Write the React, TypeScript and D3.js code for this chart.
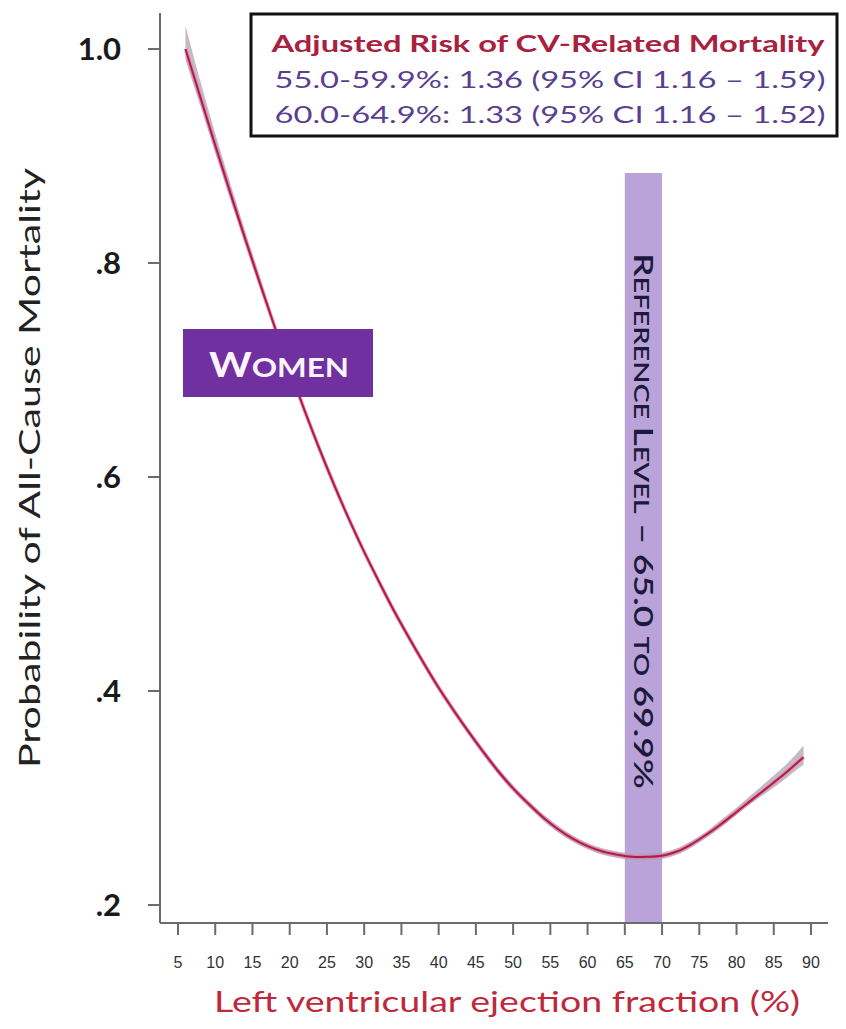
import React from 'react';
import * as d3 from 'd3';

// LVEF (%) and fitted probability of all-cause mortality (women)
const lvef = [6, 8, 10, 12, 14, 16, 18, 20, 22, 24, 26, 28, 30, 32, 34, 36, 38, 40, 42, 44, 46, 48, 50, 52, 54, 56, 58, 60, 62, 64, 66, 68, 70, 72, 74, 76, 78, 80, 82, 84, 86, 88, 89];
const prob = [1.0, 0.955, 0.91, 0.866, 0.823, 0.781, 0.74, 0.7, 0.662, 0.626, 0.592, 0.56, 0.53, 0.502, 0.475, 0.45, 0.426, 0.403, 0.382, 0.362, 0.343, 0.325, 0.309, 0.295, 0.282, 0.271, 0.262, 0.255, 0.25, 0.247, 0.245, 0.245, 0.246, 0.25, 0.257, 0.266, 0.276, 0.287, 0.298, 0.309, 0.32, 0.332, 0.338];
const upper = [1.022, 0.97, 0.921, 0.875, 0.83, 0.787, 0.744, 0.704, 0.666, 0.63, 0.596, 0.563, 0.533, 0.505, 0.478, 0.453, 0.429, 0.406, 0.385, 0.365, 0.346, 0.328, 0.312, 0.298, 0.285, 0.274, 0.265, 0.258, 0.253, 0.25, 0.248, 0.248, 0.249, 0.253, 0.26, 0.269, 0.28, 0.291, 0.303, 0.315, 0.327, 0.341, 0.349];
const lower = [0.99, 0.947, 0.903, 0.86, 0.818, 0.777, 0.736, 0.697, 0.659, 0.623, 0.589, 0.557, 0.527, 0.499, 0.472, 0.447, 0.423, 0.4, 0.379, 0.359, 0.34, 0.322, 0.306, 0.292, 0.279, 0.268, 0.259, 0.252, 0.247, 0.244, 0.242, 0.242, 0.243, 0.247, 0.254, 0.263, 0.273, 0.284, 0.295, 0.305, 0.315, 0.326, 0.331];

const xTicks = [5, 10, 15, 20, 25, 30, 35, 40, 45, 50, 55, 60, 65, 70, 75, 80, 85, 90];
const yTicks = [0.2, 0.4, 0.6, 0.8, 1.0];
const yTickLabels = ['.2', '.4', '.6', '.8', '1.0'];
const refBand = [65, 70];

const legendTitle = 'Adjusted Risk of CV-Related Mortality';
const legendLines = ['55.0-59.9%: 1.36 (95% CI 1.16 \u2013 1.59)', '60.0-64.9%: 1.33 (95% CI 1.16 \u2013 1.52)'];

const W = 846;
const H = 1029;
const FONT = 'Lato, "Open Sans", sans-serif';

export default function App() {
  const x = d3.scaleLinear().domain([5, 90]).range([178, 811]);
  const y = d3.scaleLinear().domain([0.2, 1.0]).range([905, 49]);
  const axisX = 160;
  const axisY = 923;

  const pts = lvef.map((v, i) => ({ v, p: prob[i], lo: lower[i], hi: upper[i] }));
  const line = d3.line<any>().x(d => x(d.v)).y(d => y(d.p)).curve(d3.curveCatmullRom);
  const area = d3.area<any>().x(d => x(d.v)).y0(d => y(d.lo)).y1(d => y(d.hi)).curve(d3.curveCatmullRom);

  const bandMid = (x(refBand[0]) + x(refBand[1])) / 2;

  return (
    <svg width={W} height={H} style={{ position: 'absolute', left: 0, top: 0, background: '#fff' }} fontFamily={FONT}>
      {/* reference band */}
      <rect x={x(refBand[0])} y={173} width={x(refBand[1]) - x(refBand[0])} height={axisY - 173} fill="#b9a3d8" />
      <text transform={`translate(${bandMid - 9},521) rotate(90)`} textAnchor="middle"
        fontSize={27} fill="#1c1a3c" fontWeight={600} textLength={536} lengthAdjust="spacingAndGlyphs">
        <tspan>R</tspan><tspan fontSize={21}>EFERENCE </tspan><tspan>L</tspan><tspan fontSize={21}>EVEL</tspan>
        <tspan> {'\u2013'} 65.0 </tspan><tspan fontSize={21}>TO</tspan><tspan> 69.9%</tspan>
      </text>

      {/* axes */}
      <line x1={axisX} x2={axisX} y1={13} y2={axisY} stroke="#6b6b6b" strokeWidth={2} />
      <line x1={axisX} x2={828} y1={axisY} y2={axisY} stroke="#6b6b6b" strokeWidth={2} />
      {yTicks.map((t, i) => (
        <g key={t}>
          <line x1={axisX - 12} x2={axisX} y1={y(t)} y2={y(t)} stroke="#6b6b6b" strokeWidth={2} />
          <text x={121} y={y(t)} dy="0.36em" textAnchor="end" fontSize={31} fontWeight={700} fill="#1a1a1a">{yTickLabels[i]}</text>
        </g>
      ))}
      {xTicks.map(t => (
        <g key={t}>
          <line x1={x(t)} x2={x(t)} y1={axisY} y2={axisY + 12} stroke="#6b6b6b" strokeWidth={2} />
          <text x={x(t)} y={968} textAnchor="middle" fontSize={16} fill="#333"
            fontFamily='"Liberation Sans Narrow", "Liberation Sans", sans-serif'>{t}</text>
        </g>
      ))}

      {/* curve with CI band */}
      <path d={area(pts) || ''} fill="#b3a2ad" opacity={0.75} />
      <path d={line(pts) || ''} fill="none" stroke="#ec6b96" strokeWidth={4} opacity={0.5} />
      <path d={line(pts) || ''} fill="none" stroke="#b01a50" strokeWidth={2} />

      {/* axis titles */}
      <text transform="translate(40,468) rotate(-90)" textAnchor="middle" fontSize={29} fill="#222" textLength={600} lengthAdjust="spacingAndGlyphs">
        Probability of All-Cause Mortality
      </text>
      <text x={507} y={1012} textAnchor="middle" fontSize={29} fill="#c0283c" textLength={586} lengthAdjust="spacingAndGlyphs">
        Left ventricular ejection fraction (%)
      </text>

      {/* WOMEN label */}
      <rect x={183} y={329} width={190} height={68} fill="#7030a0" />
      <text x={279} y={377} textAnchor="middle" fill="#fbf4ff" fontWeight={700} fontSize={35} textLength={140} lengthAdjust="spacingAndGlyphs">
        <tspan>W</tspan><tspan fontSize={27}>OMEN</tspan>
      </text>

      {/* legend box */}
      <rect x={251} y={14} width={586} height={122} fill="#fff" stroke="#111" strokeWidth={3} />
      <text x={548} y={52} textAnchor="middle" fontSize={23} fontWeight={700} fill="#a8213f" textLength={553} lengthAdjust="spacingAndGlyphs">{legendTitle}</text>
      {legendLines.map((l, i) => (
        <text key={l} x={550} y={88 + i * 35} textAnchor="middle" fontSize={23} fill="#5a3f90" textLength={551} lengthAdjust="spacingAndGlyphs">{l}</text>
      ))}
    </svg>
  );
}
